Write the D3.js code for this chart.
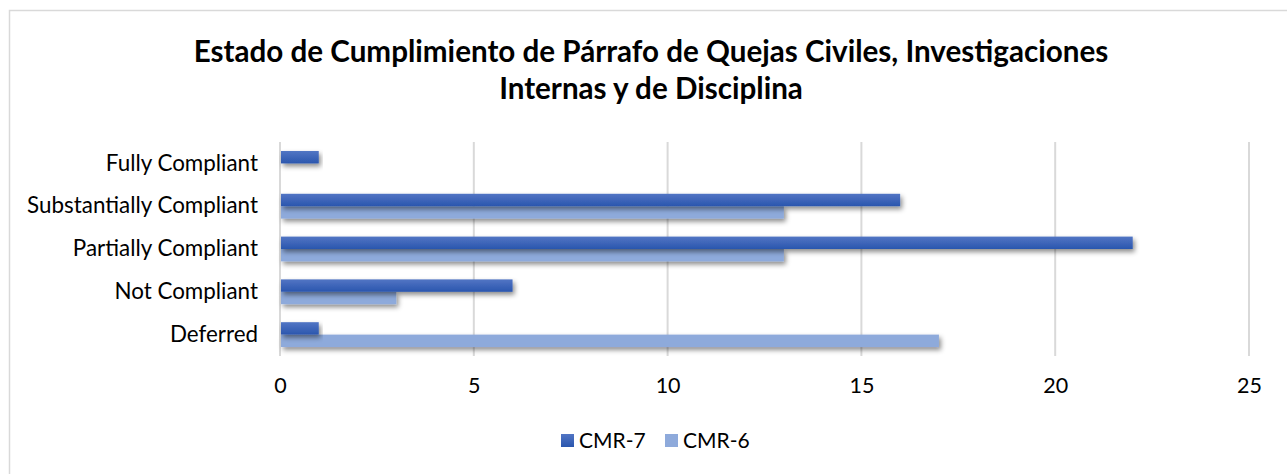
<!DOCTYPE html>
<html>
<head>
<meta charset="utf-8">
<script src="https://cdn.jsdelivr.net/npm/d3@7"></script>
<style>
  body { margin: 0; background: #fff; }
  svg text { font-family: "Lato", "Open Sans", sans-serif; }
</style>
</head>
<body>
<div id="chart"></div>
<script>
const categories = ["Fully Compliant", "Substantially Compliant", "Partially Compliant", "Not Compliant", "Deferred"];
const seriesNames = ["CMR-7", "CMR-6"];
const cmr7 = [1, 16, 22, 6, 1];
const cmr6 = [0, 13, 13, 3, 17];
const xTicks = [0, 5, 10, 15, 20, 25];
const titleLines = ["Estado de Cumplimiento de Párrafo de Quejas Civiles, Investigaciones", "Internas y de Disciplina"];

const W = 1287, H = 474;
const margin = { top: 142, right: 38, bottom: 118, left: 280 };
const width = W - margin.left - margin.right,
	height = H - margin.top - margin.bottom;

const svg = d3.select("#chart").append("svg")
	.attr("width", W)
	.attr("height", H);

const defs = svg.append("defs");
const shadow = defs.append("filter").attr("id", "shadow")
	.attr("x", "-5%").attr("y", "-50%").attr("width", "115%").attr("height", "250%");
shadow.append("feDropShadow")
	.attr("dx", 2).attr("dy", 3).attr("stdDeviation", 2.5)
	.attr("flood-color", "#000").attr("flood-opacity", 0.45);

const grad = defs.append("linearGradient").attr("id", "dark")
	.attr("x1", 0).attr("y1", 0).attr("x2", 0).attr("y2", 1);
grad.append("stop").attr("offset", "0%").attr("stop-color", "#5275c4");
grad.append("stop").attr("offset", "100%").attr("stop-color", "#2a56ae");

// chart border
svg.append("rect")
	.attr("x", 9.5).attr("y", 10.5)
	.attr("width", W + 10).attr("height", H + 10)
	.attr("fill", "none").attr("stroke", "#d9d9d9").attr("stroke-width", 1.5);

// title
svg.append("g").selectAll("text")
	.data(titleLines)
	.enter().append("text")
	.attr("x", 651)
	.attr("y", (d, i) => 62 + i * 37)
	.attr("text-anchor", "middle")
	.style("font-size", "29.6px")
	.style("font-weight", "bold")
	.style("fill", "#000")
	.text(d => d);

const g = svg.append("g")
	.attr("transform", "translate(" + margin.left + "," + margin.top + ")");

const x = d3.scaleLinear().domain([0, 25]).range([0, width]);
const y0 = d3.scaleBand().domain(categories).range([0, height]).paddingInner(0.42).paddingOuter(0.21);
const y1 = d3.scaleBand().domain(seriesNames).range([0, y0.bandwidth()]);

// gridlines
g.append("g").selectAll("line")
	.data(xTicks)
	.enter().append("line")
	.attr("x1", d => x(d)).attr("x2", d => x(d))
	.attr("y1", 0).attr("y2", height)
	.attr("stroke", "#d9d9d9").attr("stroke-width", 2);

// x axis labels
const xAxis = g.append("g")
	.attr("transform", "translate(0," + height + ")")
	.call(d3.axisBottom(x).tickValues(xTicks).tickSize(0).tickPadding(22));
xAxis.select(".domain").remove();
xAxis.selectAll("text").style("font-size", "21.5px").style("fill", "#000");

// y axis labels
const yAxis = g.append("g")
	.call(d3.axisLeft(y0).tickSize(0).tickPadding(22));
yAxis.select(".domain").remove();
yAxis.selectAll("text").style("font-size", "22.4px").style("fill", "#000");

const rows = categories.map((c, i) => ({ cat: c, values: [
	{ key: "CMR-6", v: cmr6[i] },
	{ key: "CMR-7", v: cmr7[i] }
]}));

const colors = { "CMR-7": "url(#dark)", "CMR-6": "#8eaadb" };

g.append("g").selectAll("g")
	.data(rows)
	.enter().append("g")
	.attr("transform", d => "translate(0," + y0(d.cat) + ")")
	.selectAll("rect")
	.data(d => d.values.filter(v => v.v > 0))
	.enter().append("rect")
	.attr("x", x(0) + 1)
	.attr("y", d => y1(d.key))
	.attr("width", d => x(d.v) - x(0) - 1)
	.attr("height", y1.bandwidth())
	.attr("fill", d => colors[d.key])
	.attr("filter", "url(#shadow)");

// legend
const legendItems = [
	{ key: "CMR-7", color: "url(#dark)", x: 561 },
	{ key: "CMR-6", color: "#8eaadb", x: 665 }
];
const legend = svg.append("g").selectAll("g")
	.data(legendItems)
	.enter().append("g")
	.attr("transform", d => "translate(" + d.x + ",434)");
legend.append("rect")
	.attr("width", 13).attr("height", 13)
	.attr("fill", d => d.color);
legend.append("text")
	.attr("x", 18).attr("y", 13.5)
	.style("font-size", "21px")
	.style("fill", "#000")
	.text(d => d.key);
</script>
</body>
</html>
